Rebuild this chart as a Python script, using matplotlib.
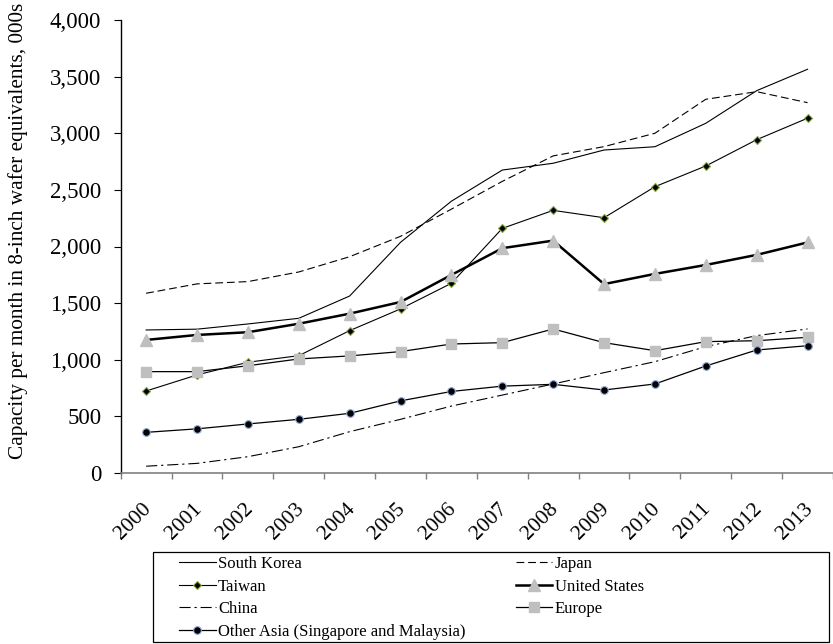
import numpy as np
import matplotlib
matplotlib.use("Agg")
import matplotlib.pyplot as plt
import matplotlib.transforms as mtransforms
from matplotlib.patches import Rectangle

plt.rcParams['font.family'] = ['Liberation Serif', 'DejaVu Serif']

# Fab capacity per month, 8-inch wafer equivalents (000s)
years = [str(y) for y in range(2000, 2014)]
south_korea = [1263, 1270, 1316, 1366, 1563, 2037, 2400, 2675, 2735, 2852, 2881, 3088, 3376, 3565]
japan = [1587, 1670, 1690, 1775, 1910, 2090, 2330, 2575, 2800, 2882, 3000, 3300, 3367, 3270]
taiwan = [724, 866, 978, 1036, 1257, 1449, 1675, 2160, 2319, 2254, 2528, 2711, 2943, 3133]
united_states = [1175, 1219, 1243, 1318, 1407, 1510, 1749, 1985, 2052, 1668, 1758, 1837, 1926, 2036]
china = [60, 85, 144, 232, 365, 474, 591, 688, 786, 886, 983, 1116, 1213, 1272]
europe = [895, 895, 947, 1007, 1034, 1072, 1139, 1151, 1272, 1151, 1080, 1160, 1168, 1198]
other_asia = [359, 390, 433, 474, 527, 637, 720, 767, 783, 733, 786, 945, 1086, 1124]

x = np.arange(len(years))

fig = plt.figure(figsize=(8.33, 6.44), dpi=100)
ax = fig.add_axes([120.7 / 833, 1 - 473 / 644, 1 - 120.7 / 833, (473 - 20) / 644])

l_sk, = ax.plot(x, south_korea, color='black', lw=0.8, label='South Korea')
l_jp, = ax.plot(x, japan, color='black', lw=0.8, dashes=(7, 3.5), label='Japan')
l_tw, = ax.plot(x, taiwan, color='black', lw=0.8, marker='D', ms=4.5,
                mfc='black', mec='#8aa845', mew=0.8, label='Taiwan')
l_us, = ax.plot(x, united_states, color='black', lw=1.8, marker='^', ms=8,
                mfc='#bfbfbf', mec='#bfbfbf', label='United States')
l_cn, = ax.plot(x, china, color='black', lw=0.8, dashes=(10, 3.5, 2, 3.5), label='China')
l_eu, = ax.plot(x, europe, color='black', lw=0.9, marker='s', ms=6.5,
                mfc='#bfbfbf', mec='#bfbfbf', label='Europe')
l_oa, = ax.plot(x, other_asia, color='black', lw=0.9, marker='o', ms=5.5,
                mfc='black', mec='#8fa8d8', mew=0.8,
                label='Other Asia (Singapore and Malaysia)')

ax.set_xlim(-0.5, len(years) - 0.5)
ax.set_ylim(0, 4000)
ax.set_yticks(np.arange(0, 4001, 500))
ax.yaxis.set_major_formatter(matplotlib.ticker.FuncFormatter(lambda v, p: f'{int(v):,}'))

ax.set_xticks(x)
ax.set_xticklabels(years, rotation=45, ha='right', va='top')
ax.set_xticks(np.arange(-0.5, len(years), 1), minor=True)
ax.tick_params(axis='x', which='major', length=0, pad=19, labelsize=15.5)
ax.tick_params(axis='x', which='minor', length=4.5, width=1, color='#808080', direction='out')
ax.tick_params(axis='y', length=5, width=0.8, pad=9, labelsize=16.5, direction='out')

shift = mtransforms.ScaledTranslation(9 / 100, 0, fig.dpi_scale_trans)
for lbl in ax.get_xticklabels():
    lbl.set_transform(lbl.get_transform() + shift)

for side in ('top', 'right'):
    ax.spines[side].set_visible(False)
ax.spines['left'].set_linewidth(1.0)
ax.spines['bottom'].set_color('#808080')
ax.spines['bottom'].set_linewidth(1.2)

fig.text(18 / 833, 1 - 231 / 644, 'Capacity per month in 8-inch wafer equivalents, 000s',
         rotation=90, ha='center', va='center', fontsize=15.3)

# legend in two columns (filled row by row) inside a plain rectangular box
fig.patches.append(Rectangle((153.3 / 833, 1 - 642.3 / 644), (829 - 153.3) / 833,
                             (642.3 - 551.7) / 644, transform=fig.transFigure,
                             fill=False, edgecolor='black', lw=0.9))
order = [l_sk, l_tw, l_cn, l_oa, l_jp, l_us, l_eu]
fig.legend(handles=order, labels=[h.get_label() for h in order],
           loc='upper left', bbox_to_anchor=(179 / 833, 1 - 556 / 644), ncol=2,
           frameon=False, fontsize=12, handlelength=2.2, handletextpad=0.15,
           columnspacing=3.0, labelspacing=0.4, borderpad=0, borderaxespad=0)

fig.savefig('out.png', dpi=100)
